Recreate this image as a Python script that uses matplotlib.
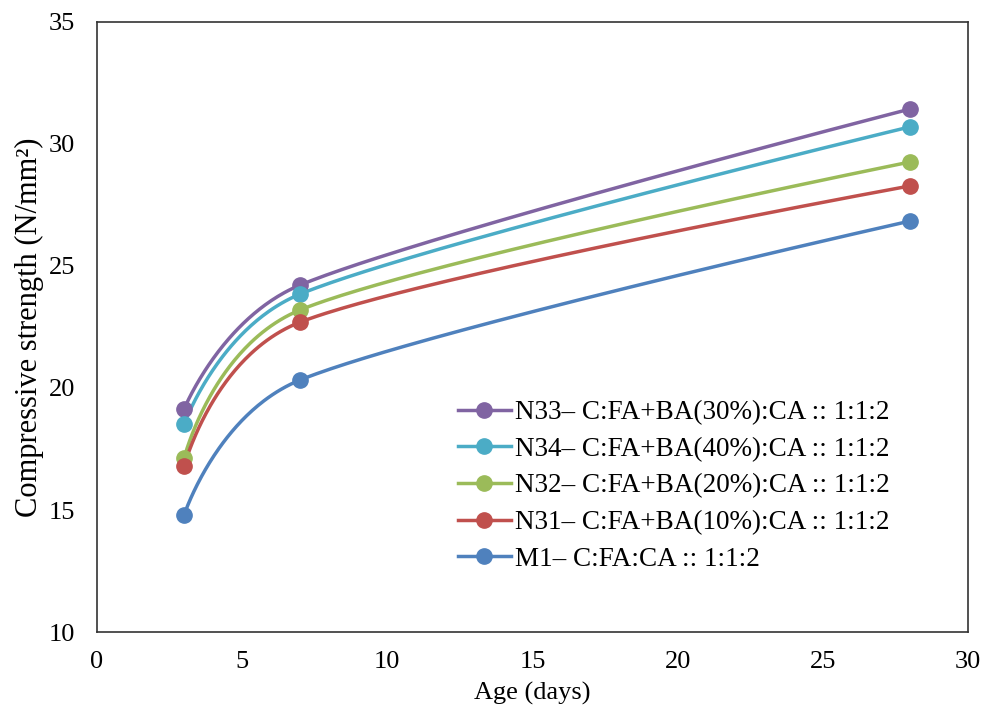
import matplotlib
matplotlib.use("Agg")
import matplotlib.pyplot as plt
import numpy as np

plt.rcParams['font.family'] = ['Liberation Serif', 'DejaVu Serif']

ages = [3, 7, 28]
labels = ['N33– C:FA+BA(30%):CA :: 1:1:2',
          'N34– C:FA+BA(40%):CA :: 1:1:2',
          'N32– C:FA+BA(20%):CA :: 1:1:2',
          'N31– C:FA+BA(10%):CA :: 1:1:2',
          'M1– C:FA:CA :: 1:1:2']
n33 = [19.14, 24.22, 31.43]
n34 = [18.52, 23.85, 30.70]
n32 = [17.13, 23.20, 29.26]
n31 = [16.80, 22.70, 28.28]
m1 = [14.80, 20.33, 26.84]
colors = ['#8064A2', '#4BACC6', '#9BBB59', '#C0504D', '#4F81BD']

# pixels per data unit, used so the smoothing behaves like Excel's (screen space)
SX, SY = 29.03, 24.4


def smooth(x, y, n=100):
    # rough copy of Excel's smoothed line: Bezier segments, tangent (P[i+1]-P[i-1])/6
    # limited to half of the neighbouring segment, no tangent at the ends
    p = np.column_stack([np.array(x) * SX, np.array(y) * SY]).astype(float)
    m = len(p)
    t = np.linspace(0, 1, n)[:, None]
    pts = []
    for i in range(m - 1):
        a, b = p[i], p[i + 1]
        seg_len = np.linalg.norm(b - a)
        if i == 0:
            c1 = a
        else:
            d = (p[i + 1] - p[i - 1]) / 6
            L = np.linalg.norm(d)
            c1 = a + d * min(1, 0.5 * seg_len / L)
        if i == m - 2:
            c2 = b
        else:
            d = (p[i + 2] - p[i]) / 6
            L = np.linalg.norm(d)
            c2 = b - d * min(1, 0.5 * seg_len / L)
        seg = ((1 - t) ** 3) * a + 3 * ((1 - t) ** 2) * t * c1 \
            + 3 * (1 - t) * t ** 2 * c2 + t ** 3 * b
        pts.append(seg)
    out = np.vstack(pts)
    return out[:, 0] / SX, out[:, 1] / SY


fig = plt.figure(figsize=(9.86, 7.08), dpi=100)
ax = fig.add_axes([0.0984, 0.1073, 0.8833, 0.8617])

for vals, lab, c in zip([n33, n34, n32, n31, m1], labels, colors):
    sx, sy = smooth(ages, vals)
    ax.plot(sx, sy, color=c, lw=2.5, zorder=2)
    ax.plot(ages, vals, 'o', color=c, ms=11, zorder=3)
    ax.plot([], [], '-o', color=c, lw=2.5, ms=11, label=lab)

ax.set_xlim(0, 30)
ax.set_ylim(10, 35)
ax.set_xticks(range(0, 31, 5))
ax.set_yticks(range(10, 36, 5))
ax.tick_params(length=0, labelsize=19)
ax.tick_params(axis='x', pad=14)
ax.tick_params(axis='y', pad=16)
for s in ax.spines.values():
    s.set_color('#333333')
    s.set_linewidth(1.2)

ax.set_xlabel('Age (days)', fontsize=19, labelpad=6)
ax.set_ylabel('Compressive strength (N/mm²)', fontsize=22, labelpad=3)

ax.legend(loc='upper left', bbox_to_anchor=(458 / 986, (708 - 400) / 708),
          bbox_transform=fig.transFigure, frameon=False,
          fontsize=19.5, handlelength=1.95, handletextpad=0.15,
          labelspacing=0.43, borderaxespad=0, borderpad=0)

fig.savefig('out.png', dpi=100)
